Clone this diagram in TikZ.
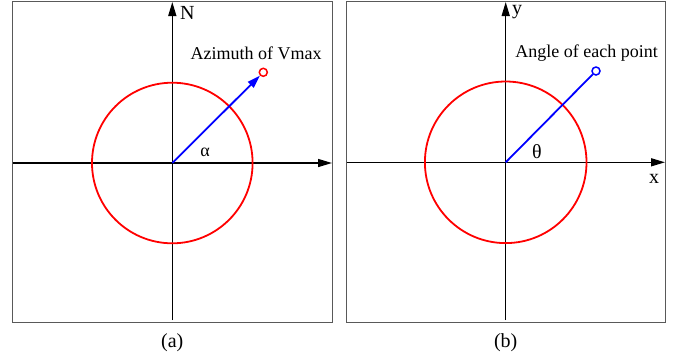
\documentclass[tikz,border=0pt]{standalone}
\usepackage{fontspec}
\setmainfont{Liberation Serif}
\usetikzlibrary{arrows.meta}
\begin{document}
\begin{tikzpicture}[x=1pt,y=-1pt,
  frame/.style={draw=black!65, line width=1pt},
  axis/.style={draw=black, line width=1.4pt, -{Triangle[length=14pt,width=8pt]}},
  ring/.style={draw=red, line width=1.8pt},
  ray/.style={draw=blue, line width=1.8pt},
  lbl/.style={font=\fontsize{18}{21}\selectfont, inner sep=0pt},
  big/.style={font=\fontsize{20}{22}\selectfont, inner sep=0pt},
  dot/.style={circle, draw, line width=1.5pt, fill=white, minimum size=8pt, inner sep=0pt}]
\useasboundingbox (0,0) rectangle (685,360);
% ---------- panel (a)
\draw[frame] (12.7,1) rectangle (332,322);
\coordinate (Oa) at (172.3,163);
\coordinate (Sa) at (172.3,320);
\coordinate (Na) at (172.3,2);
\coordinate (Wa) at (12.7,163);
\coordinate (Ea) at (332,163);
\draw[axis] (Sa) -- (Na);
\draw[axis] (Wa) -- (Ea);
\draw[ring] (Oa) circle[radius=80.3];
\node[dot, draw=red] (Va) at (263.3,72.3) {};
\draw[ray, -{Triangle[length=13pt,width=8pt]}] (Oa) -- (Va);
\node[lbl] (ta) at (256,53) {Azimuth of Vmax};
\node[lbl] (alpha) at (205,152) {α};
\node[big, anchor=west] (N) at (180,13) {N};
\node[big] (capa) at (172.3,343) {(a)};
% ---------- panel (b)
\draw[frame] (346.7,1) rectangle (665,322);
\coordinate (Ob) at (505.7,162.3);
\coordinate (Sb) at (505.7,320);
\coordinate (Nb) at (505.7,2);
\coordinate (Wb) at (346.7,162.3);
\coordinate (Eb) at (665,162.3);
\draw[axis] (Sb) -- (Nb);
\draw[axis] (Wb) -- (Eb);
\draw[ring] (Ob) circle[radius=80.8];
\node[dot, draw=blue] (Vb) at (596,71) {};
\draw[ray] (Ob) -- (Vb);
\node[lbl] (tb) at (586.7,53) {Angle of each point};
\node[big] (theta) at (537,151.7) {θ};
\node[big, anchor=west] (ylab) at (512,12) {y};
\node[big] (xlab) at (654,179) {x};
\node[big] (capb) at (505.7,343) {(b)};
\end{tikzpicture}
\end{document}
